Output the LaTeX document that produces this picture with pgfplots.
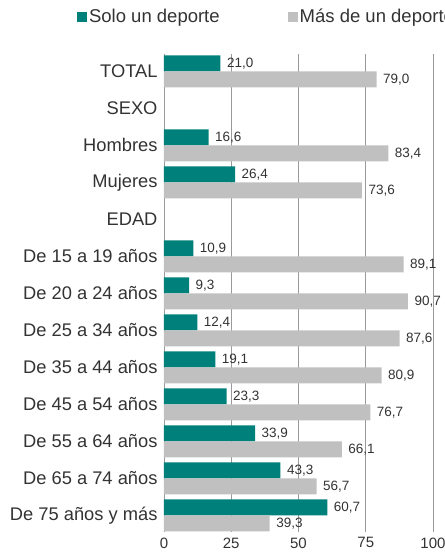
\documentclass[border=0pt]{standalone}
\usepackage{pgfplots}
\pgfplotsset{compat=1.18}
\usepackage{fontspec}
\setmainfont{Liberation Sans}
\definecolor{teal1}{HTML}{00807A}
\definecolor{gris1}{HTML}{C0C0C0}
\definecolor{txt}{HTML}{333333}
\definecolor{grid1}{HTML}{9A9A9A}

\begin{document}
\begin{tikzpicture}
\begin{axis}[
    name=ax,
    xbar,
    scale only axis,
    width=269pt,
    height=478pt,
    xmin=0, xmax=100,
    ymin=-0.47, ymax=12.45,
    y dir=reverse,
    bar width=16pt,
    xtick={0,25,50,75,100},
    ytick={0,...,12},
    yticklabels={TOTAL,SEXO,Hombres,Mujeres,EDAD,De 15 a 19 años,De 20 a 24 años,De 25 a 34 años,De 35 a 44 años,De 45 a 54 años,De 55 a 64 años,De 65 a 74 años,De 75 años y más},
    yticklabel style={font=\fontsize{18.3}{21}\selectfont,text=txt,xshift=-3pt},
    xticklabel style={font=\fontsize{15}{17}\selectfont,text=txt,yshift=-2pt},
    /pgf/number format/assume math mode=true,
    major tick length=0pt,
    axis line style={draw=none},
    xmajorgrids=true,
    grid style={grid1,line width=0.8pt},
    nodes near coords={\pgfmathprintnumber[fixed,fixed zerofill,precision=1,use comma]{\pgfplotspointmeta}},
    nodes near coords style={font=\fontsize{13.5}{15}\selectfont,text=txt,anchor=west,xshift=3pt},
    legend style={draw=none,fill=none,font=\fontsize{18.5}{21}\selectfont,text=txt,
        at={(axis description cs:-0.335,1.078)},anchor=west,
        legend columns=2,
        /tikz/every even column/.append style={column sep=66pt}},
    legend cell align=left,
]
\addplot[fill=teal1,draw=none,bar shift=8pt,
    legend image code/.code={\fill[teal1] (0pt,-5pt) rectangle (10pt,5pt);}]
    coordinates {(21.0,0) (16.6,2) (26.4,3) (10.9,5) (9.3,6) (12.4,7) (19.1,8) (23.3,9) (33.9,10) (43.3,11) (60.7,12)};
\addlegendentry{Solo un deporte}
\addplot[fill=gris1,draw=none,bar shift=-8pt,
    legend image code/.code={\fill[gris1] (0pt,-5pt) rectangle (10pt,5pt);}]
    coordinates {(79.0,0) (83.4,2) (73.6,3) (89.1,5) (90.7,6) (87.6,7) (80.9,8) (76.7,9) (66.1,10) (56.7,11) (39.3,12)};
\addlegendentry{Más de un deporte}
\end{axis}
\pgfresetboundingbox
\path[use as bounding box] ([shift={(-164pt,54pt)}]ax.north west) rectangle ([shift={(280pt,-502pt)}]ax.north west);
\end{tikzpicture}
\end{document}
